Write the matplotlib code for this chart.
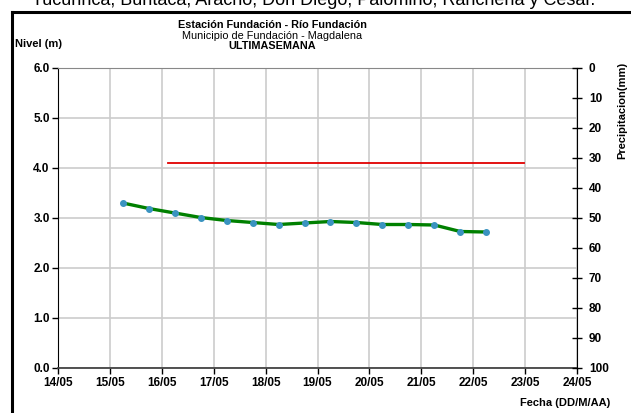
#!/usr/bin/env python
# Nivel del rio Fundacion - ultima semana
import pandas as pd
import matplotlib
matplotlib.use("Agg")
import matplotlib.pyplot as plt
import matplotlib.dates as mdates
from matplotlib.lines import Line2D

plt.rcParams['font.family'] = ['Liberation Sans', 'DejaVu Sans']

fechas = [
    "2014-05-15 06:00", "2014-05-15 18:00", "2014-05-16 06:00",
    "2014-05-16 18:00", "2014-05-17 06:00", "2014-05-17 18:00",
    "2014-05-18 06:00", "2014-05-18 18:00", "2014-05-19 06:00",
    "2014-05-19 18:00", "2014-05-20 06:00", "2014-05-20 18:00",
    "2014-05-21 06:00", "2014-05-21 18:00", "2014-05-22 06:00",
]
nivel = [3.30, 3.19, 3.10, 3.01, 2.95, 2.91, 2.87, 2.90, 2.93, 2.91,
         2.87, 2.87, 2.86, 2.73, 2.72]

alerta_fechas = ["2014-05-16 03:00", "2014-05-22 23:30"]
alerta_nivel = [4.1, 4.1]

x_lim = ["2014-05-14", "2014-05-24"]

fig = plt.figure(figsize=(6.31, 4.13), dpi=100)
ax = fig.add_axes([58/631, 1-368/413, 519/631, 300/413])

t = pd.to_datetime(fechas)
ta = pd.to_datetime(alerta_fechas)

ax.plot(ta, alerta_nivel, color='#e00000', lw=1.3, zorder=3)
ax.plot(t, nivel, color='#008000', lw=2.4, zorder=4,
        marker='o', ms=4, mfc='#3a93c0', mec='#3a93c0')

ax.set_xlim(pd.to_datetime(x_lim[0]), pd.to_datetime(x_lim[1]))
ax.set_ylim(0, 6)
ax.set_yticks([0, 1, 2, 3, 4, 5, 6])
ax.yaxis.set_major_formatter(plt.FormatStrFormatter('%.1f'))
ax.xaxis.set_major_locator(mdates.DayLocator())
ax.xaxis.set_major_formatter(mdates.DateFormatter('%d/%m'))
ax.grid(True, color='#cccccc', lw=1.2)
ax.set_axisbelow(True)

for lab in ax.get_xticklabels() + ax.get_yticklabels():
    lab.set_fontweight('bold')
    lab.set_fontsize(8.5)
ax.tick_params(axis='both', length=4, width=1, color='black', pad=2)
ax.tick_params(axis='x', pad=2.5)

ax.spines['top'].set_color('#888888')
ax.spines['left'].set_color('black')
ax.spines['bottom'].set_color('#444444')
ax.spines['bottom'].set_linewidth(1.3)
ax.spines['right'].set_visible(False)

ax2 = ax.twinx()
ax2.set_ylim(100, 0)
ax2.set_yticks(range(0, 101, 10))
ax2.tick_params(axis='y', direction='inout', length=7, width=1, pad=5)
for lab in ax2.get_yticklabels():
    lab.set_fontweight('bold')
    lab.set_fontsize(8.5)
for s in ['top', 'left', 'bottom']:
    ax2.spines[s].set_visible(False)
ax2.spines['right'].set_color('black')

# titulos
fig.text(272/631, 1-25/413, "Estación Fundación - Río Fundación",
         ha='center', va='center', fontsize=7.8, fontweight='bold')
fig.text(272/631, 1-36/413, "Municipio de Fundación - Magdalena",
         ha='center', va='center', fontsize=7.8)
fig.text(272/631, 1-46/413, "ULTIMASEMANA",
         ha='center', va='center', fontsize=7.8, fontweight='bold')
fig.text(15/631, 1-44/413, "Nivel (m)", ha='left', va='center',
         fontsize=8, fontweight='bold')
fig.text(610/631, 1-403/413, "Fecha (DD/M/AA)", ha='right', va='center',
         fontsize=8, fontweight='bold')
fig.text(622/631, 1-110/413, "Precipitacion(mm)", ha='center', va='center',
         rotation=90, fontsize=8, fontweight='bold')

# texto cortado arriba (como en el original) y marco
fig.text(0.497, 1-5/413, "Tucurinca, Buritaca, Aracho, Don Diego, Palomino, Rancheria y Cesar.",
         ha='center', va='baseline', fontsize=13)
fig.add_artist(Line2D([12/631, 1], [1-12/413, 1-12/413], color='black', lw=2.2))
fig.add_artist(Line2D([12/631, 12/631], [0, 1-12/413], color='black', lw=2.2))

fig.savefig("out.png", dpi=100)
